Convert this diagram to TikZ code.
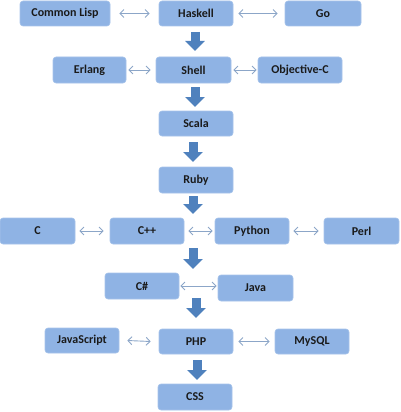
\documentclass[tikz,border=0pt]{standalone}
\usepackage{fontspec}
\setmainfont{Carlito}
\usetikzlibrary{arrows.meta}
\definecolor{boxfill}{HTML}{8FB3E4}
\definecolor{boxedge}{HTML}{A6C3EA}
\definecolor{blockarrow}{HTML}{4F81BD}
\definecolor{thinarrow}{HTML}{8CA6C8}
\definecolor{txt}{HTML}{1A1A1A}
\tikzset{
  lang/.style={fill=boxfill, draw=boxedge, line width=0.6pt, rounded corners=3pt, inner sep=0pt,
    font=\fontsize{12}{14}\selectfont\bfseries, text=txt},
  flow/.style={draw=blockarrow, line width=9pt,
    -{Triangle[width=19pt,length=10pt]}},
  link/.style={draw=thinarrow, line width=0.9pt,
    {Straight Barb[length=4pt,width=8pt]}-{Straight Barb[length=4pt,width=8pt]}}
}
\begin{document}
\begin{tikzpicture}[x=1pt,y=-1pt]
\useasboundingbox (0,0) rectangle (400,412);
% nodes
\node[lang, minimum width=90pt, minimum height=25pt] (lisp) at (65,13.5) {Common Lisp};
\node[lang, minimum width=74pt, minimum height=25pt] (haskell) at (196,13.5) {Haskell};
\node[lang, minimum width=76pt, minimum height=25pt] (go) at (323,13.5) {Go};
\node[lang, minimum width=73pt, minimum height=26pt] (erlang) at (89.5,70) {Erlang};
\node[lang, minimum width=75pt, minimum height=26pt] (shell) at (193.5,70) {Shell};
\node[lang, minimum width=84pt, minimum height=26pt] (objc) at (300,70) {Objective-C};
\node[lang, minimum width=74pt, minimum height=25pt] (scala) at (196,123.5) {Scala};
\node[lang, minimum width=74pt, minimum height=26pt] (ruby) at (196,180) {Ruby};
\node[lang, minimum width=75pt, minimum height=26pt] (c) at (37.5,231) {C};
\node[lang, minimum width=74pt, minimum height=26pt] (cpp) at (147,231) {C++};
\node[lang, minimum width=74pt, minimum height=26pt] (python) at (252,231) {Python};
\node[lang, minimum width=75pt, minimum height=26pt] (perl) at (361.5,231) {Perl};
\node[lang, minimum width=74pt, minimum height=26pt] (csharp) at (142,286) {C\#};
\node[lang, minimum width=75pt, minimum height=26pt] (java) at (255.5,288) {Java};
\node[lang, minimum width=74pt, minimum height=25pt] (js) at (82,340.5) {JavaScript};
\node[lang, minimum width=74pt, minimum height=25pt] (php) at (196,341.5) {PHP};
\node[lang, minimum width=74pt, minimum height=25pt] (mysql) at (312,341.5) {MySQL};
\node[lang, minimum width=74pt, minimum height=26pt] (css) at (195,397) {CSS};
% free ends of the flow arrows
\coordinate (rowtop) at (193,214);
\coordinate (rowbot) at (193,248);
% flow (block) arrows
\draw[flow] (195,32) -- (195,51);
\draw[flow] (195,87) -- (195,107);
\draw[flow] (193,142) -- (193,162);
\draw[flow] (193,196) -- (rowtop);
\draw[flow] (rowbot) -- (193,269);
\draw[flow] (196,298) -- (196,318);
\draw[flow] (197,360) -- (197,380);
% thin double arrows
\draw[link] ([xshift=-9pt]haskell.west) -- ([xshift=9pt]lisp.east);
\draw[link] ([xshift=5pt]haskell.east) -- ([xshift=-7pt]go.west);
\draw[link] ([xshift=2pt]erlang.east) -- ([xshift=-5pt]shell.west);
\draw[link] ([xshift=2pt]shell.east) -- ([xshift=-1pt]objc.west);
\draw[link] ([xshift=4pt]c.east) -- ([xshift=-6pt]cpp.west);
\draw[link] ([xshift=4pt]cpp.east) -- ([xshift=-2pt]python.west);
\draw[link] ([xshift=4pt]python.east) -- ([xshift=-5pt]perl.west);
\draw[link] ([xshift=1pt]csharp.east) -- ([xshift=-1pt]java.west |- csharp.east);
\draw[link] ([xshift=8pt]js.east) -- ([xshift=-8pt]php.west);
\draw[link] ([xshift=5pt]php.east) -- ([xshift=-5pt]mysql.west);
\end{tikzpicture}
\end{document}
